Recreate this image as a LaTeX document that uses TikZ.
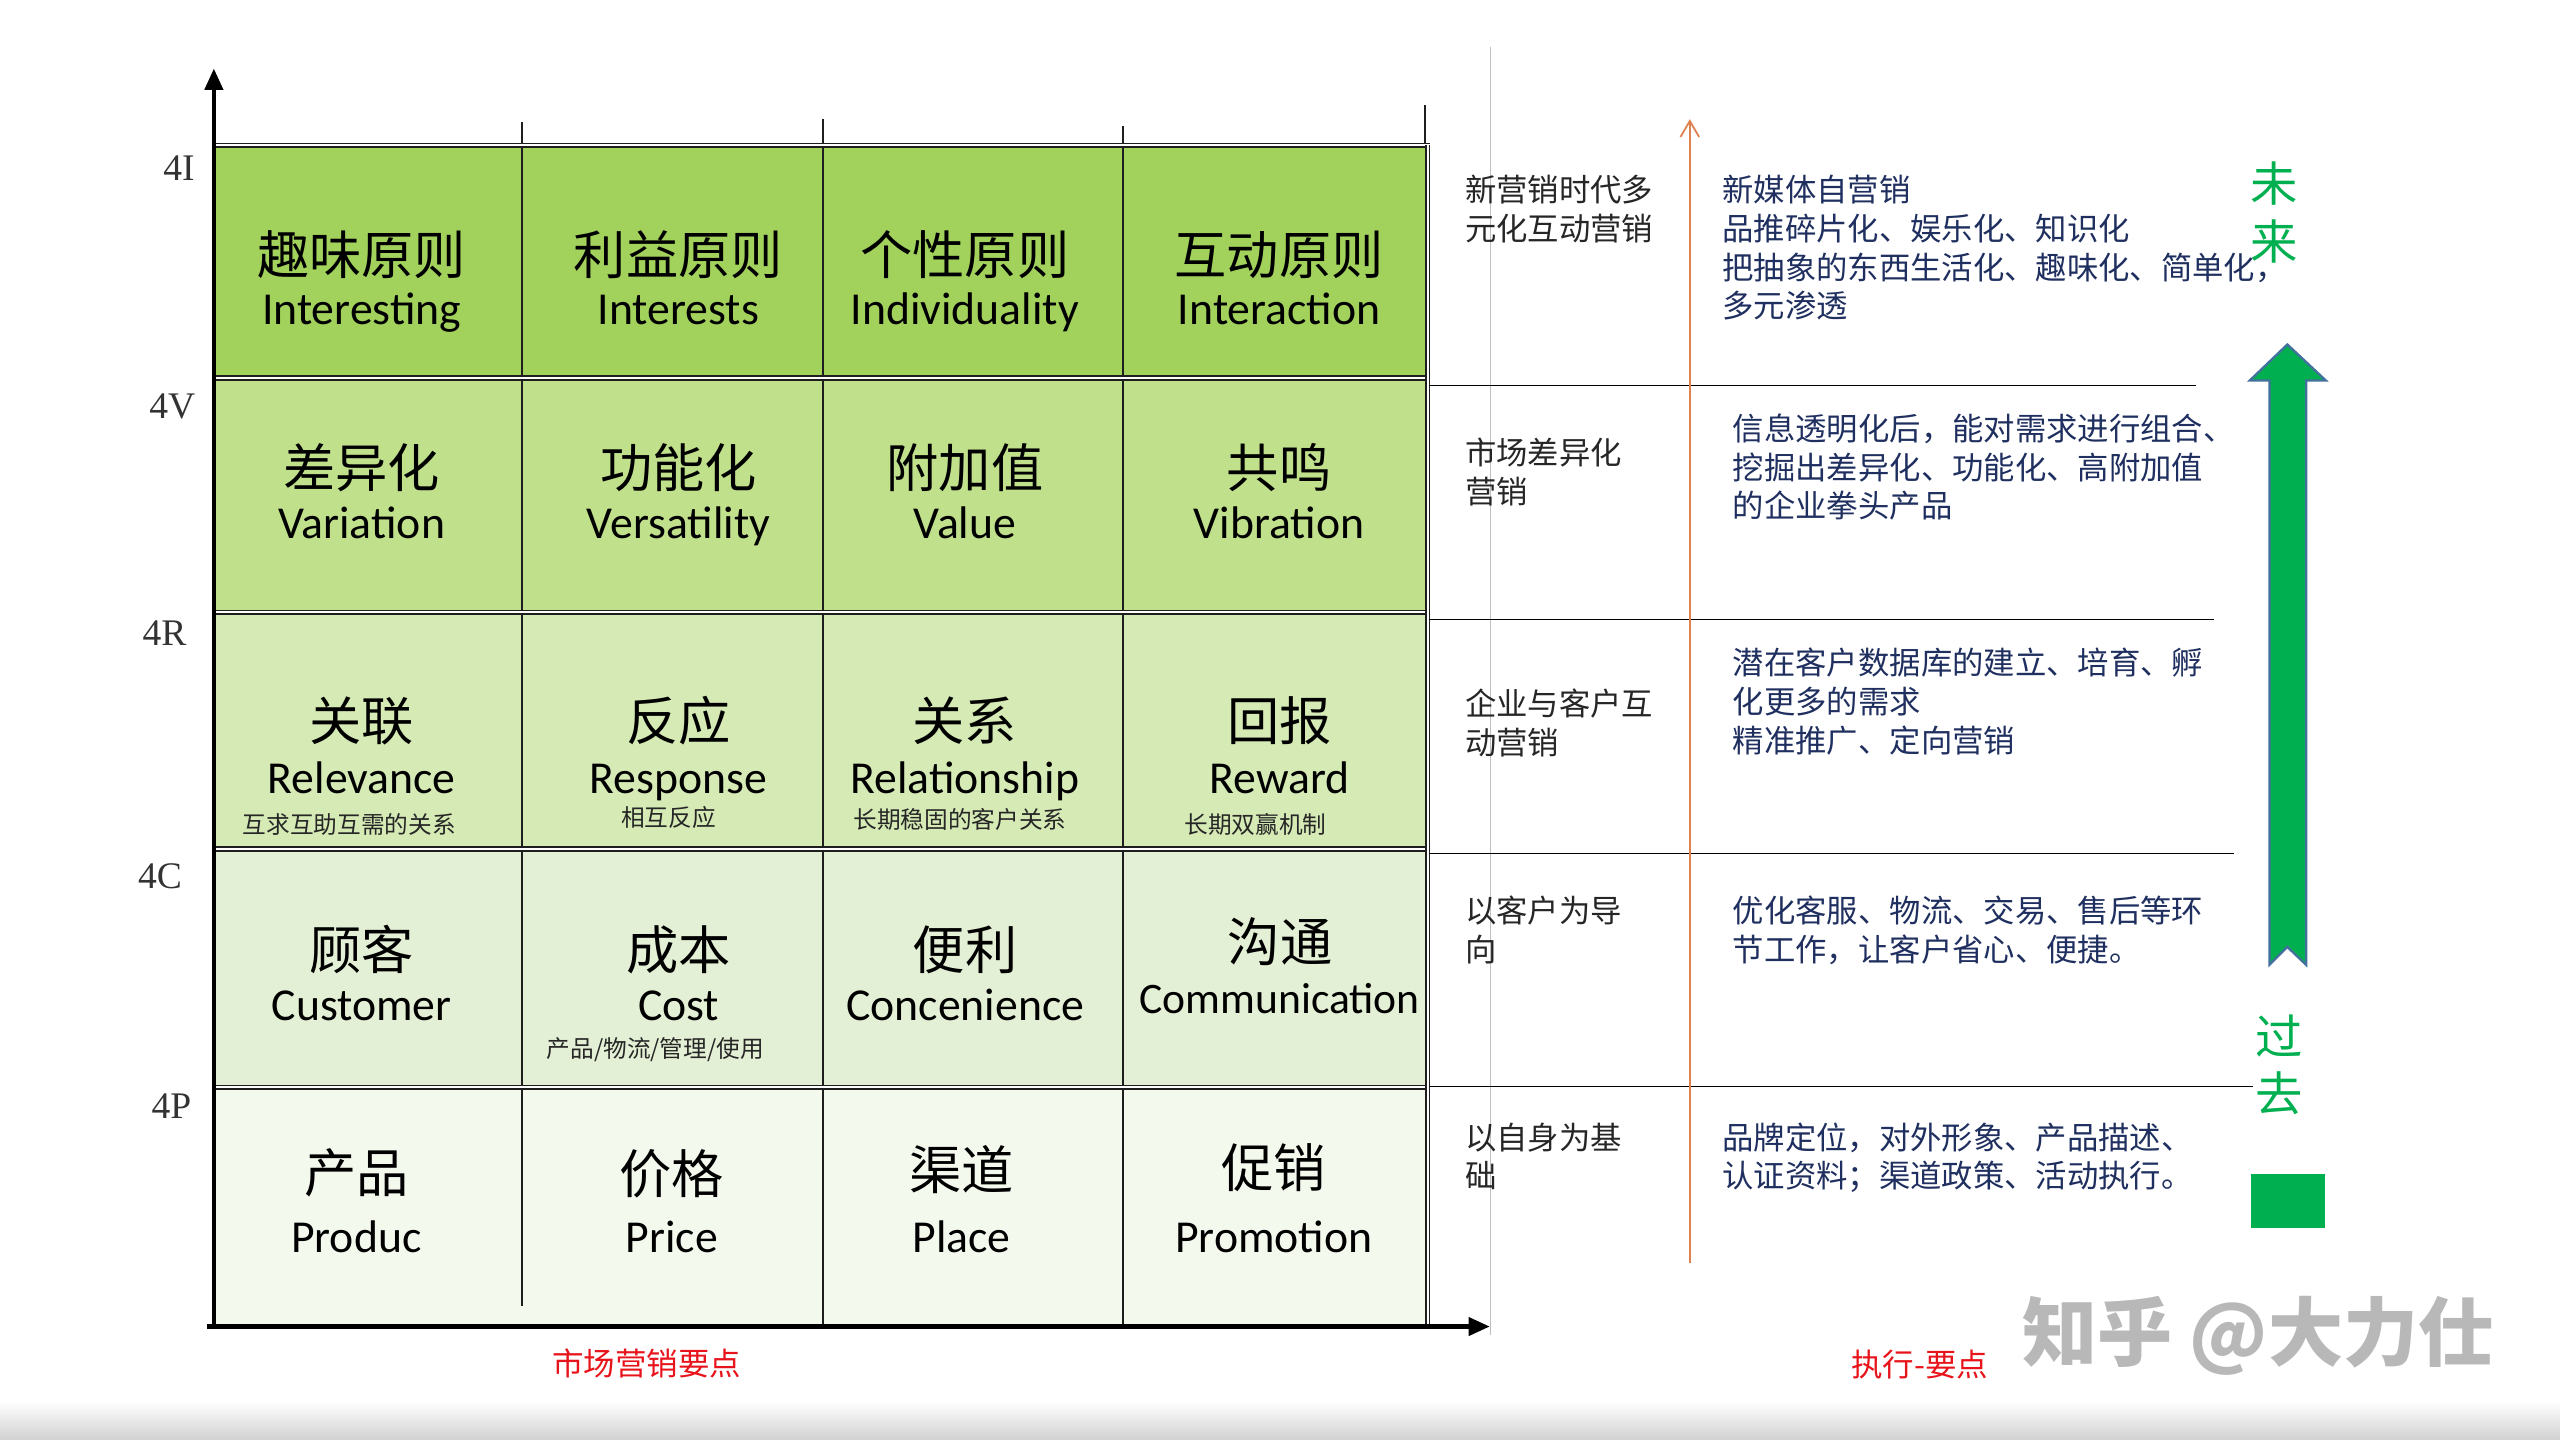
\documentclass[tikz,border=0pt]{standalone}
\usepackage{fontspec}
\setmainfont{Liberation Serif}
\newfontfamily\cjk{Noto Sans CJK SC}
\newfontfamily\enf{Carlito}
\newfontfamily\serf{Liberation Serif}
\usetikzlibrary{arrows.meta}
\definecolor{rowI}{HTML}{A2D15C}
\definecolor{rowV}{HTML}{C0E08C}
\definecolor{rowR}{HTML}{D5EAB5}
\definecolor{rowC}{HTML}{E4F0D5}
\definecolor{rowP}{HTML}{F4F9EE}
\definecolor{arrowgreen}{HTML}{00B050}
\definecolor{arrowedge}{HTML}{41719C}
\definecolor{orangeline}{HTML}{E0824F}
\definecolor{navytext}{HTML}{1F2F5F}
\definecolor{darktext}{HTML}{262626}
\definecolor{redtext}{HTML}{E8141B}
\definecolor{gridline}{HTML}{1E1E1E}
\definecolor{graylineC}{HTML}{BFBFBF}
\newcommand{\cellpair}[6]{%
  \node[cntext] (#1cn) at (#2,#3) {#5};
  \node[entext] (#1en) at (#2,#4) {#6};}
\begin{document}
\begin{tikzpicture}[x=0.5pt,y=-0.5pt,
  cntext/.style={anchor=base, inner sep=0, font=\cjk\fontsize{16pt}{18pt}\selectfont, text=black},
  entext/.style={anchor=base, inner sep=0, font=\enf\fontsize{14pt}{16pt}\selectfont, text=black},
  smtext/.style={anchor=base, inner sep=0, font=\cjk\fontsize{7.25pt}{9pt}\selectfont, text=black!85},
  lvltext/.style={anchor=center, inner sep=0, font=\serf\fontsize{11.5pt}{13pt}\selectfont, text=black!80},
  lefttxt/.style={anchor=base west, inner sep=0, align=left, font=\cjk\fontsize{9.6pt}{11.9pt}\selectfont, text=darktext},
  righttxt/.style={anchor=base west, inner sep=0, align=left, font=\cjk\fontsize{9.6pt}{11.9pt}\selectfont, text=navytext},
  timetext/.style={anchor=base, inner sep=0, font=\cjk\fontsize{14.5pt}{16pt}\selectfont, text=arrowgreen},
  redlabel/.style={anchor=base, inner sep=0, font=\cjk\fontsize{9.65pt}{11pt}\selectfont, text=redtext},
  colline/.style={draw=gridline, line width=0.6pt},
  rowline/.style={draw=gridline, line width=0.5pt, double=white, double distance=0.6pt},
  axisline/.style={draw=black, line width=1.3pt, -{Triangle[length=6.5pt,width=5.5pt]}},
  sepline/.style={draw=black, line width=0.5pt},
]
\useasboundingbox (0,0) rectangle (1568,882);
\fill[white] (0,0) rectangle (1568,882);
\shade[top color=white, bottom color=black!18] (0,858) rectangle (1568,882);

% row fills
\fill[rowI] (131,89) rectangle (875,231.5);
\fill[rowV] (131,231.5) rectangle (875,375);
\fill[rowR] (131,375) rectangle (875,520);
\fill[rowC] (131,520) rectangle (875,666);
\fill[rowP] (131,666) rectangle (875,812);

% column lines
\draw[colline] (320,74.7) -- (320,800);
\draw[colline] (504,72.8) -- (504,811);
\draw[colline] (688,77) -- (688,811);
\draw[colline] (873,64.6) -- (873,89);

% row boundaries
\draw[rowline] (131,89) -- (876,89);
\draw[rowline] (131,231.5) -- (876,231.5);
\draw[rowline] (131,375) -- (876,375);
\draw[rowline] (131,520) -- (876,520);
\draw[rowline] (131,666) -- (876,666);
\draw[rowline] (874.5,89) -- (874.5,812);

% thin grey guide
\draw[graylineC, line width=0.4pt] (912.8,28.6) -- (912.8,817.5);

% axes
\coordinate (ybot) at (131,813.5);
\coordinate (ytop) at (131,42);
\coordinate (xleft) at (127,812.5);
\coordinate (xright) at (912.5,812.5);
\draw[axisline] (ybot) -- (ytop);
\draw[axisline] (xleft) -- (xright);

% level labels
\node[lvltext] (lvlI) at (109.7,103) {4I};
\node[lvltext] (lvlV) at (105.6,249) {4V};
\node[lvltext] (lvlR) at (100.8,387.8) {4R};
\node[lvltext] (lvlC) at (98,537) {4C};
\node[lvltext] (lvlP) at (105,677.5) {4P};

% row 4I
\cellpair{ia}{221.5}{168.4}{199}{趣味原则}{Interesting}
\cellpair{ib}{415.5}{168.4}{199}{利益原则}{Interests}
\cellpair{ic}{591}{168.4}{199}{个性原则}{Individuality}
\cellpair{id}{783.5}{168.4}{199}{互动原则}{Interaction}
% row 4V
\cellpair{va}{221.5}{298.8}{330}{差异化}{Variation}
\cellpair{vb}{415.5}{298.8}{330}{功能化}{Versatility}
\cellpair{vc}{591}{298.8}{330}{附加值}{Value}
\cellpair{vd}{783.5}{298.8}{330}{共鸣}{Vibration}
% row 4R
\cellpair{ra}{221.5}{453.8}{486.1}{关联}{Relevance}
\cellpair{rb}{415.5}{453.8}{486.1}{反应}{Response}
\cellpair{rc}{591}{453.8}{486.1}{关系}{Relationship}
\cellpair{rd}{783.8}{453.8}{486.1}{回报}{Reward}
\node[smtext] (rasm) at (214,510.3) {互求互助互需的关系};
\node[smtext] (rbsm) at (409.4,506.5) {相互反应};
\node[smtext] (rcsm) at (588,507.6) {长期稳固的客户关系};
\node[smtext] (rdsm) at (769,510.5) {长期双赢机制};
% row 4C
\cellpair{ca}{221.5}{593.6}{625.2}{顾客}{Customer}
\cellpair{cb}{415.7}{593.6}{625.2}{成本}{Cost}
\cellpair{cc}{591.2}{593.6}{625.2}{便利}{Concenience}
\node[cntext] (cdcn) at (784,588.9) {沟通};
\node[entext, font=\enf\fontsize{13.35pt}{15pt}\selectfont] (cden) at (783.8,620.5) {Communication};
\node[smtext] (cbsm) at (401.4,647.5) {产品/物流/管理/使用};
% row 4P
\cellpair{pa}{218.2}{730.2}{767.3}{产品}{Produc}
\cellpair{pb}{411.5}{730.8}{767.3}{价格}{Price}
\cellpair{pc}{589}{728.8}{767.3}{渠道}{Place}
\cellpair{pd}{780.2}{727.2}{767.3}{促销}{Promotion}

% right part: separators
\draw[sepline] (875,236.2) -- (1345,236.2);
\draw[sepline] (875,379.4) -- (1356,379.4);
\draw[sepline] (875,522.7) -- (1368,522.7);
\draw[sepline] (875,665.5) -- (1380,665.5);

% orange arrow
\coordinate (obot) at (1035,773.8);
\coordinate (otop) at (1035,73);
\draw[orangeline, line width=0.55pt, -{Straight Barb[length=4.9pt,width=5.7pt]}] (obot) -- (otop);

% left column texts (anchor = baseline of last line)
\node[lefttxt] (la) at (897,147.1) {新营销时代多\\元化互动营销};
\node[lefttxt] (lb) at (897,308.6) {市场差异化\\营销};
\node[lefttxt] (lc) at (897,462.3) {企业与客户互\\动营销};
\node[lefttxt] (ld) at (897,588.8) {以客户为导\\向};
\node[lefttxt] (le) at (897,727.6) {以自身为基\\础};

% right column texts (anchor = baseline of last line)
\node[righttxt] (ra1) at (1054.5,194.7) {新媒体自营销\\品推碎片化、娱乐化、知识化\\把抽象的东西生活化、趣味化、简单化，\\多元渗透};
\node[righttxt] (rb1) at (1061,317.2) {信息透明化后，能对需求进行组合、\\挖掘出差异化、功能化、高附加值\\的企业拳头产品};
\node[righttxt] (rc1) at (1061,460.6) {潜在客户数据库的建立、培育、孵\\化更多的需求\\精准推广、定向营销};
\node[righttxt] (rd1) at (1061,588.8) {优化客服、物流、交易、售后等环\\节工作，让客户省心、便捷。};
\node[righttxt] (re1) at (1054.5,727.6) {品牌定位，对外形象、产品描述、\\认证资料；渠道政策、活动执行。};

% green time arrow
\draw[fill=arrowgreen, draw=arrowedge, line width=0.7pt, line join=miter]
  (1401,211) -- (1424.5,233) -- (1412.5,233) -- (1412.5,591) -- (1401,580)
  -- (1390,591) -- (1390,233) -- (1378,233) -- cycle;
\fill[arrowgreen] (1378.6,719) rectangle (1424,752);
\node[timetext] (wei) at (1393,123.7) {未};
\node[timetext] (lai) at (1393,159) {来};
\node[timetext] (guo) at (1396,646) {过};
\node[timetext] (qu) at (1396,680.5) {去};

% bottom labels
\node[redlabel] (mkt) at (396,842.6) {市场营销要点};
\node[redlabel] (exe) at (1175.8,843.3) {执行-要点};

% watermark
\node[anchor=center, inner sep=0, font=\cjk\bfseries\fontsize{23pt}{25pt}\selectfont, text=black!28] (wm) at (1383,818) {知乎 @大力仕};
\end{tikzpicture}
\end{document}
